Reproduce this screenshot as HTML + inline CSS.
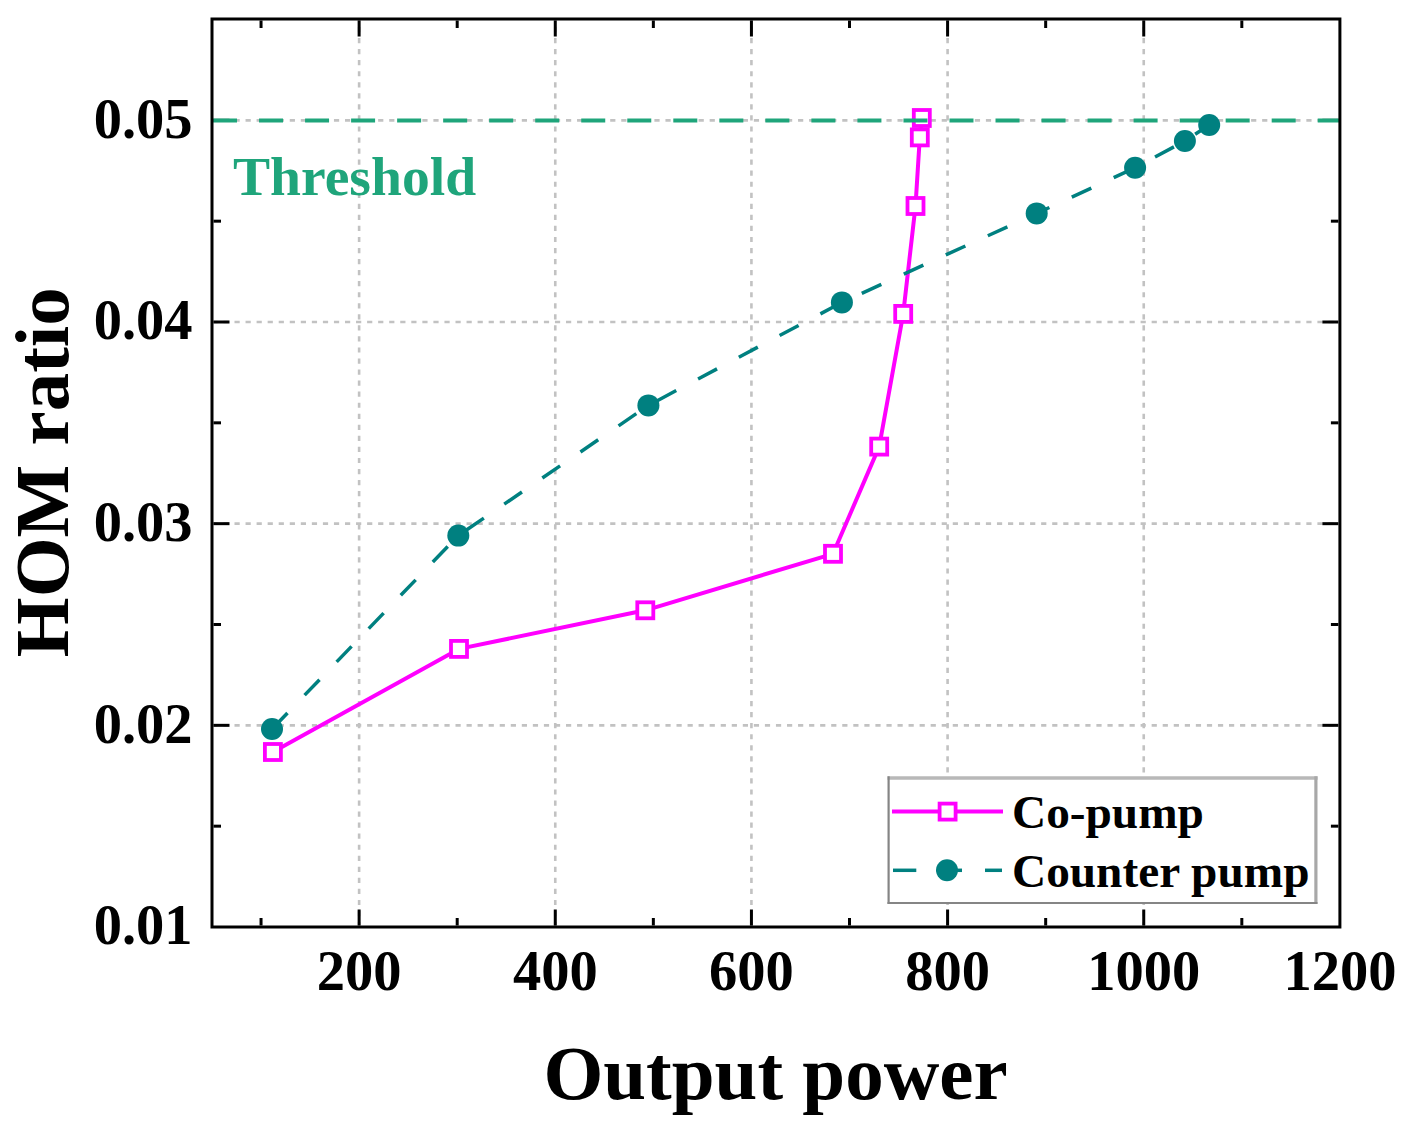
<!DOCTYPE html><html><head><meta charset="utf-8"><title>HOM ratio vs Output power</title><style>html,body{margin:0;padding:0;background:#fff;overflow:hidden;width:1407px;height:1137px;}svg{display:block;}text{font-family:"Liberation Serif",serif;font-weight:bold;}</style></head><body>
<svg width="1407" height="1137" viewBox="0 0 1407 1137">
<rect width="1407" height="1137" fill="#fff"/>
<g>
<g stroke="#c2c2c2" stroke-width="2.6" stroke-dasharray="5.2 5.85" stroke-dashoffset="3.6" fill="none"><line x1="359.12" y1="19.50" x2="359.12" y2="927.00"/><line x1="555.27" y1="19.50" x2="555.27" y2="927.00"/><line x1="751.43" y1="19.50" x2="751.43" y2="927.00"/><line x1="947.59" y1="19.50" x2="947.59" y2="927.00"/><line x1="1143.74" y1="19.50" x2="1143.74" y2="927.00"/></g>
<g stroke="#c2c2c2" stroke-width="2.6" stroke-dasharray="5.2 5.85" stroke-dashoffset="-0.4" fill="none"><line x1="212.00" y1="725.33" x2="1339.90" y2="725.33"/><line x1="212.00" y1="523.67" x2="1339.90" y2="523.67"/><line x1="212.00" y1="322.00" x2="1339.90" y2="322.00"/><line x1="212.00" y1="120.33" x2="1339.90" y2="120.33"/></g>
<g stroke="#000" stroke-width="3"><line x1="261.04" y1="925.5" x2="261.04" y2="918.0"/><line x1="261.04" y1="20.5" x2="261.04" y2="28.0"/><line x1="359.12" y1="925.5" x2="359.12" y2="909.5"/><line x1="359.12" y1="20.5" x2="359.12" y2="36.5"/><line x1="457.20" y1="925.5" x2="457.20" y2="918.0"/><line x1="457.20" y1="20.5" x2="457.20" y2="28.0"/><line x1="555.27" y1="925.5" x2="555.27" y2="909.5"/><line x1="555.27" y1="20.5" x2="555.27" y2="36.5"/><line x1="653.35" y1="925.5" x2="653.35" y2="918.0"/><line x1="653.35" y1="20.5" x2="653.35" y2="28.0"/><line x1="751.43" y1="925.5" x2="751.43" y2="909.5"/><line x1="751.43" y1="20.5" x2="751.43" y2="36.5"/><line x1="849.51" y1="925.5" x2="849.51" y2="918.0"/><line x1="849.51" y1="20.5" x2="849.51" y2="28.0"/><line x1="947.59" y1="925.5" x2="947.59" y2="909.5"/><line x1="947.59" y1="20.5" x2="947.59" y2="36.5"/><line x1="1045.67" y1="925.5" x2="1045.67" y2="918.0"/><line x1="1045.67" y1="20.5" x2="1045.67" y2="28.0"/><line x1="1143.74" y1="925.5" x2="1143.74" y2="909.5"/><line x1="1143.74" y1="20.5" x2="1143.74" y2="36.5"/><line x1="1241.82" y1="925.5" x2="1241.82" y2="918.0"/><line x1="1241.82" y1="20.5" x2="1241.82" y2="28.0"/><line x1="213.5" y1="826.17" x2="221.0" y2="826.17"/><line x1="1338.4" y1="826.17" x2="1330.9" y2="826.17"/><line x1="213.5" y1="725.33" x2="229.5" y2="725.33"/><line x1="1338.4" y1="725.33" x2="1322.4" y2="725.33"/><line x1="213.5" y1="624.50" x2="221.0" y2="624.50"/><line x1="1338.4" y1="624.50" x2="1330.9" y2="624.50"/><line x1="213.5" y1="523.67" x2="229.5" y2="523.67"/><line x1="1338.4" y1="523.67" x2="1322.4" y2="523.67"/><line x1="213.5" y1="422.83" x2="221.0" y2="422.83"/><line x1="1338.4" y1="422.83" x2="1330.9" y2="422.83"/><line x1="213.5" y1="322.00" x2="229.5" y2="322.00"/><line x1="1338.4" y1="322.00" x2="1322.4" y2="322.00"/><line x1="213.5" y1="221.17" x2="221.0" y2="221.17"/><line x1="1338.4" y1="221.17" x2="1330.9" y2="221.17"/><line x1="213.5" y1="120.33" x2="229.5" y2="120.33"/><line x1="1338.4" y1="120.33" x2="1322.4" y2="120.33"/></g>
<polyline points="272.9,752 459,648.9 645.3,610.3 833,553.8 879.2,446.6 903.2,313.9 915.5,206 919.8,137.4 921.8,118" fill="none" stroke="#ff00ff" stroke-width="4" stroke-linejoin="round"/>
<g fill="#fff" stroke="#ff00ff" stroke-width="3.8"><rect x="264.90" y="744.00" width="16" height="16"/><rect x="451.00" y="640.90" width="16" height="16"/><rect x="637.30" y="602.30" width="16" height="16"/><rect x="825.00" y="545.80" width="16" height="16"/><rect x="871.20" y="438.60" width="16" height="16"/><rect x="895.20" y="305.90" width="16" height="16"/><rect x="907.50" y="198.00" width="16" height="16"/><rect x="911.80" y="129.40" width="16" height="16"/><rect x="913.80" y="110.00" width="16" height="16"/></g>
<line x1="213" y1="120.6" x2="1339.9" y2="120.6" stroke="#1fa57b" stroke-width="4.0" stroke-dasharray="24 22.03"/>
<polyline points="272,729 458.3,535.6 648.4,405.4 841.9,302.4 1036.7,213.4 1135.1,167.8 1184.9,141 1209.2,125" fill="none" stroke="#008080" stroke-width="3.5" stroke-dasharray="21.5 24.7" stroke-dashoffset="-0.8"/>
<g fill="#008080"><circle cx="272" cy="729" r="11"/><circle cx="458.3" cy="535.6" r="11"/><circle cx="648.4" cy="405.4" r="11"/><circle cx="841.9" cy="302.4" r="11"/><circle cx="1036.7" cy="213.4" r="11"/><circle cx="1135.1" cy="167.8" r="11"/><circle cx="1184.9" cy="141" r="11"/><circle cx="1209.2" cy="125" r="11"/></g>
<rect x="212.0" y="19.0" width="1127.90" height="908.00" fill="none" stroke="#000" stroke-width="3"/>
<text x="359.12" y="990" font-size="56.5" text-anchor="middle">200</text>
<text x="555.27" y="990" font-size="56.5" text-anchor="middle">400</text>
<text x="751.43" y="990" font-size="56.5" text-anchor="middle">600</text>
<text x="947.59" y="990" font-size="56.5" text-anchor="middle">800</text>
<text x="1143.74" y="990" font-size="56.5" text-anchor="middle">1000</text>
<text x="1339.90" y="990" font-size="56.5" text-anchor="middle">1200</text>
<text x="192.5" y="944.30" font-size="56.5" text-anchor="end">0.01</text>
<text x="192.5" y="742.63" font-size="56.5" text-anchor="end">0.02</text>
<text x="192.5" y="540.97" font-size="56.5" text-anchor="end">0.03</text>
<text x="192.5" y="339.30" font-size="56.5" text-anchor="end">0.04</text>
<text x="192.5" y="137.63" font-size="56.5" text-anchor="end">0.05</text>
<text x="775.5" y="1099.3" font-size="77.0" text-anchor="middle">Output power</text>
<text transform="translate(68.0,472.2) rotate(-90)" x="0" y="0" font-size="77.0" text-anchor="middle">HOM ratio</text>
<text x="233" y="195.3" font-size="55.6" fill="#1fa57b">Threshold</text>
<rect x="888.6" y="778" width="427.3" height="124.9" fill="#fff"/>
<g fill="none"><line x1="887.5" y1="778" x2="1317.6" y2="778" stroke="#b8b8b8" stroke-width="3.4"/><line x1="1315.9" y1="776.3" x2="1315.9" y2="903.9" stroke="#a8a8a8" stroke-width="3.2"/><line x1="888.6" y1="776.3" x2="888.6" y2="903.9" stroke="#858585" stroke-width="2.2"/><line x1="887.5" y1="902.9" x2="1317.5" y2="902.9" stroke="#858585" stroke-width="2"/></g>
<line x1="892" y1="811.5" x2="1003" y2="811.5" stroke="#ff00ff" stroke-width="4"/>
<rect x="939.6" y="803.6" width="16" height="16" fill="#fff" stroke="#ff00ff" stroke-width="3.8"/>
<g stroke="#008080" stroke-width="3.5"><line x1="893" y1="870.3" x2="916.3" y2="870.3"/><line x1="947" y1="870.3" x2="962" y2="870.3"/><line x1="985" y1="870.3" x2="1002" y2="870.3"/></g>
<circle cx="947" cy="870.2" r="11" fill="#008080"/>
<text x="1012" y="827.8" font-size="47.3">Co-pump</text>
<text x="1012" y="886.9" font-size="47.3">Counter pump</text>
</g></svg></body></html>
